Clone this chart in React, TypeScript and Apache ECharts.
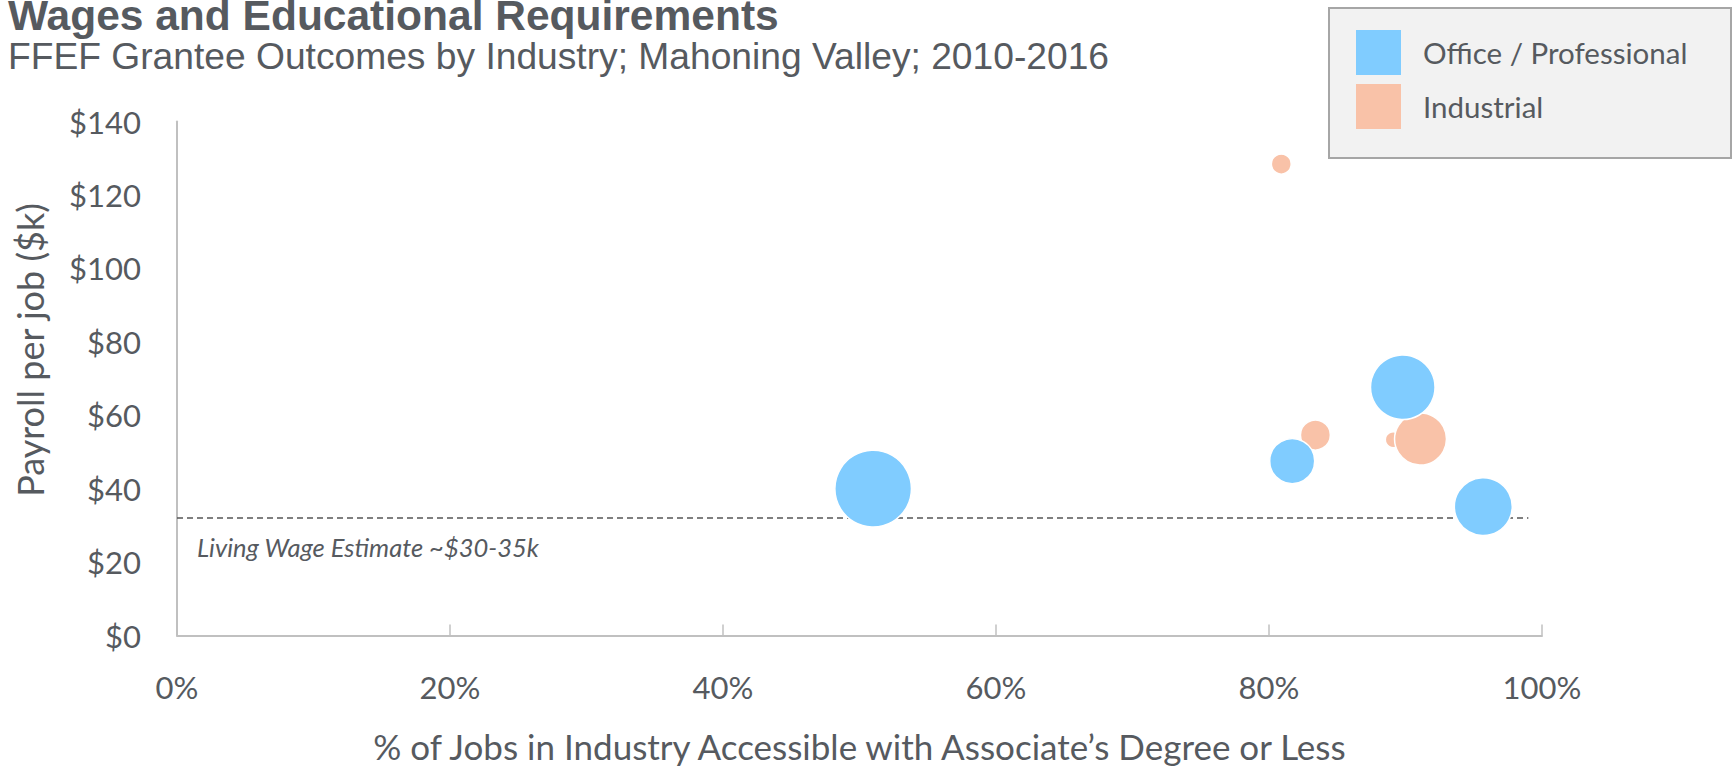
import React, { useEffect, useRef } from "react";
import * as echarts from "echarts";

const xTicks = [0, 20, 40, 60, 80, 100];
const yTicks = [0, 20, 40, 60, 80, 100, 120, 140];

const officeName = "Office / Professional";
const officeX = [51.0, 81.7, 89.8, 95.7];
const officeY = [40.0, 47.5, 67.6, 35.1];
const officeSize = [400, 138, 284, 229];

const industrialName = "Industrial";
const industrialX = [80.9, 83.4, 89.1, 91.1];
const industrialY = [128.4, 54.6, 53.3, 53.5];
const industrialSize = [27, 61, 17, 184];

const livingWage = 32;
const livingWageEnd = 99;

const TEXT = "#565a5f";
const AXIS = "#c0c0c0";
const FONT = "Lato, 'Open Sans', sans-serif";

export default function App() {
  const ref = useRef<HTMLDivElement>(null);
  useEffect(() => {
    if (!ref.current) return;
    const chart = echarts.init(ref.current, undefined, { renderer: "svg" });
    const maxSize = Math.max(...officeSize, ...industrialSize);
    const sizeFn = (v: number[]) => 76.6 * Math.sqrt(v[2] / maxSize);
    const officeData = officeX.map((x, i) => [x, officeY[i], officeSize[i]]);
    const industrialData = industrialX.map((x, i) => [x, industrialY[i], industrialSize[i]]);
    chart.setOption({
      animation: false,
      backgroundColor: "#ffffff",
      grid: { left: 177, right: 191, top: 121.5, bottom: 133.5, containLabel: false, outerBoundsMode: "none" },
      legend: {
        data: [officeName, industrialName],
        orient: "vertical",
        left: 1356,
        top: 30,
        padding: 0,
        itemWidth: 45,
        itemHeight: 45,
        itemGap: 9,
        icon: "rect",
        itemStyle: { borderWidth: 0 },
        textStyle: { fontSize: 29.5, color: TEXT, fontFamily: FONT, padding: [0, 0, 0, 17] },
        z: 10,
      },
      xAxis: {
        type: "value",
        min: xTicks[0],
        max: xTicks[xTicks.length - 1],
        interval: 20,
        name: "% of Jobs in Industry Accessible with Associate\u2019s Degree or Less",
        nameLocation: "middle",
        nameGap: 93,
        nameTextStyle: { fontSize: 35, color: TEXT, fontFamily: FONT },
        axisLine: { show: true, lineStyle: { color: AXIS, width: 2 } },
        axisTick: { show: true, inside: true, length: 11, lineStyle: { color: AXIS, width: 1.5 } },
        axisLabel: { formatter: "{value}%", fontSize: 31, color: TEXT, fontFamily: FONT, margin: 36 },
        splitLine: { show: false },
      },
      yAxis: {
        type: "value",
        min: yTicks[0],
        max: yTicks[yTicks.length - 1],
        interval: 20,
        axisLine: { show: true, lineStyle: { color: AXIS, width: 2 } },
        axisTick: { show: false },
        axisLabel: { formatter: "${value}", fontSize: 31, color: TEXT, fontFamily: FONT, margin: 36 },
        splitLine: { show: false },
      },
      series: [
        {
          name: "Living Wage",
          type: "line",
          data: [[0, livingWage], [livingWageEnd, livingWage]],
          symbol: "none",
          silent: true,
          lineStyle: { color: "#555555", width: 1.3, type: [6, 4] },
          z: 1,
        },
        {
          name: industrialName,
          type: "scatter",
          data: industrialData,
          symbolSize: sizeFn,
          itemStyle: { color: "#F9C2A8", borderColor: "#ffffff", borderWidth: 1.5, opacity: 1 },
          z: 2,
        },
        {
          name: officeName,
          type: "scatter",
          data: officeData,
          symbolSize: sizeFn,
          itemStyle: { color: "#80CCFF", borderColor: "#ffffff", borderWidth: 1.5, opacity: 1 },
          z: 3,
        },
      ],
      graphic: [
        {
          type: "rect",
          left: 1328,
          top: 7,
          shape: { width: 402, height: 150 },
          style: { fill: "#f2f2f2", stroke: "#a6a6a6", lineWidth: 2 },
          z: 0,
        },
        {
          type: "text",
          x: 8,
          y: 15,
          style: {
            text: "Wages and Educational Requirements",
            fill: TEXT,
            font: "bold 42.5px 'Liberation Sans', Arial, sans-serif",
            verticalAlign: "middle",
            align: "left",
          },
        },
        {
          type: "text",
          x: 8,
          y: 56,
          style: {
            text: "FFEF Grantee Outcomes by Industry; Mahoning Valley; 2010-2016",
            fill: TEXT,
            font: "37.2px 'Liberation Sans', Arial, sans-serif",
            verticalAlign: "middle",
            align: "left",
          },
        },
        {
          type: "text",
          x: 30,
          y: 350,
          rotation: Math.PI / 2,
          style: {
            text: "Payroll per job ($k)",
            fill: TEXT,
            font: "36px " + FONT,
            verticalAlign: "middle",
            align: "center",
          },
        },
        {
          type: "text",
          x: 197,
          y: 547,
          style: {
            text: "Living Wage Estimate ~$30-35k",
            fill: TEXT,
            font: "italic 25.5px " + FONT,
            verticalAlign: "middle",
            align: "left",
          },
        },
      ],
    });
    return () => chart.dispose();
  }, []);
  return (
    <div
      ref={ref}
      style={{ position: "fixed", left: 0, top: 0, width: 1733, height: 769 }}
    />
  );
}
